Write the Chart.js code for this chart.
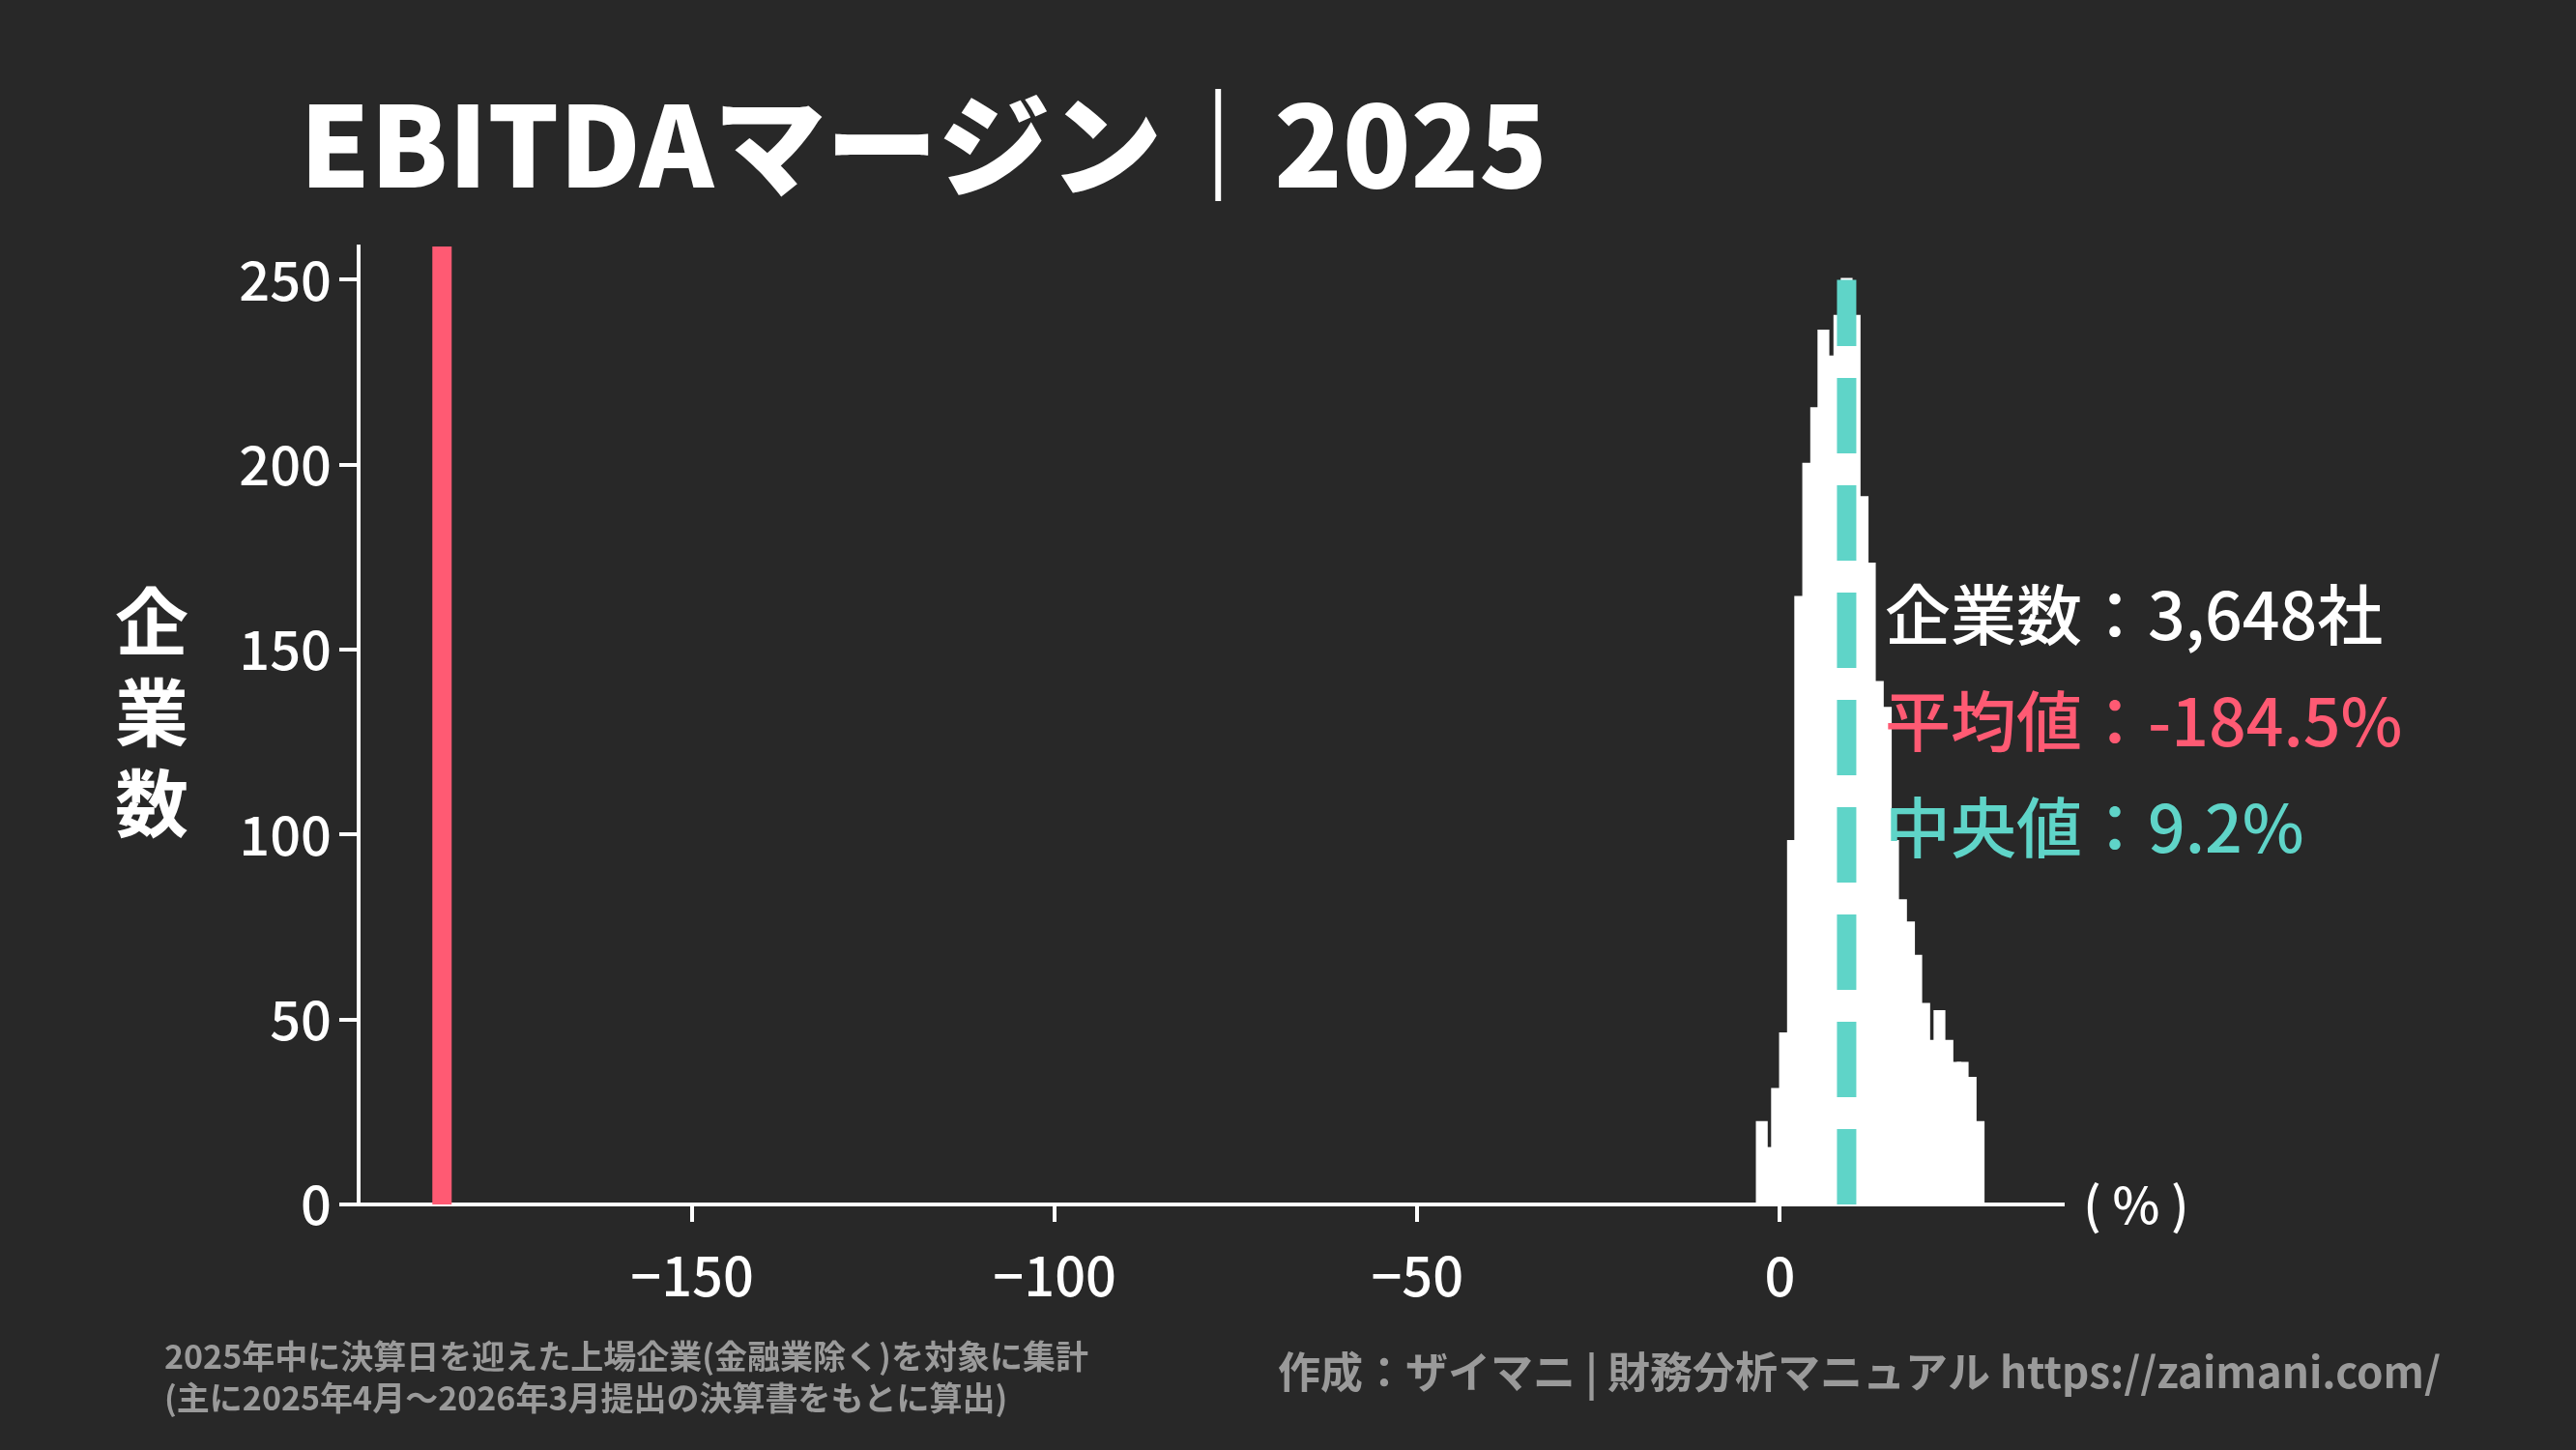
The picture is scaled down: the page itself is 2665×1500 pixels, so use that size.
<!DOCTYPE html>
<html>
<head>
<meta charset="utf-8">
<script src="https://cdn.jsdelivr.net/npm/chart.js@4"></script>
<style>
  body { margin: 0; background: #282828; }
  canvas { display: block; }
</style>
</head>
<body>
<canvas id="chart" width="2665" height="1500"></canvas>
<script>
// Histogram bins (EBITDA margin %, bin centers) and company counts
const binCenters = [-2.5, -1.4, -0.4, 0.7, 1.8, 2.8, 3.9, 5.0, 6.0, 7.1, 8.2, 9.2, 10.3, 11.4, 12.4, 13.5, 14.6, 15.6, 16.7, 17.8, 18.8, 19.9, 21.0, 22.0, 23.1, 24.2, 25.2, 26.3, 27.4];
const counts = [22, 15, 31, 46, 98, 164, 200, 215, 236, 229, 240, 250, 240, 191, 173, 141, 134, 98, 82, 76, 67, 54, 44, 52, 44, 38, 38, 34, 22];

const meanValue = -184.5;
const medianValue = 9.2;
const xTicks = [-150, -100, -50, 0];
const yTicks = [0, 50, 100, 150, 200, 250];

const FONT = '"Noto Sans CJK JP", "Noto Sans", sans-serif';
const RED = '#ff5a73';
const TEAL = '#5fd4c8';

// Draw title and side texts
const textPlugin = {
    id: 'texts',
    afterDraw(chart) {
        const ctx = chart.ctx;
        ctx.save();
        ctx.textBaseline = 'alphabetic';

        ctx.fillStyle = '#ffffff';
        ctx.font = '900 116px ' + FONT;
        ctx.textAlign = 'left';
        ctx.fillText('EBITDAマージン｜2025', 310, 194);

        ctx.font = 'bold 76px ' + FONT;
        ctx.textAlign = 'center';
        ['企', '業', '数'].forEach(function (c, i) {
            ctx.fillText(c, 157, 672 + i * 94);
        });

        ctx.font = '500 52px ' + FONT;
        ctx.textBaseline = 'middle';
        ctx.fillText('( % )', 2210, 1246);
        ctx.textBaseline = 'alphabetic';

        ctx.textAlign = 'left';
        ctx.font = '500 68px ' + FONT;
        ctx.fillStyle = '#ffffff';
        ctx.fillText('企業数：3,648社', 1950, 662);
        ctx.fillStyle = RED;
        ctx.fillText('平均値：-184.5%', 1950, 772);
        ctx.fillStyle = TEAL;
        ctx.fillText('中央値：9.2%', 1950, 882);

        ctx.fillStyle = '#9a9a9a';
        ctx.font = 'bold 34px ' + FONT;
        ctx.fillText('2025年中に決算日を迎えた上場企業(金融業除く)を対象に集計', 170, 1416);
        ctx.fillText('(主に2025年4月～2026年3月提出の決算書をもとに算出)', 170, 1459);

        ctx.font = 'bold 44px ' + FONT;
        ctx.textAlign = 'right';
        ctx.fillText('作成：ザイマニ | 財務分析マニュアル https://zaimani.com/', 2525, 1436);
        ctx.restore();
    }
};

const ctx = document.getElementById('chart').getContext('2d');

new Chart(ctx, {
    type: 'bar',

    data: {
        datasets: [
            {
                type: 'line',
                data: [{ x: medianValue, y: 0 }, { x: medianValue, y: 250 }],
                borderColor: TEAL,
                borderWidth: 20,
                borderDash: [78, 33],
                borderCapStyle: 'butt',
                pointRadius: 0,
                order: 0
            },
            {
                type: 'line',
                data: [{ x: meanValue, y: 0 }, { x: meanValue, y: 259 }],
                borderColor: RED,
                borderWidth: 20,
                pointRadius: 0,
                order: 0
            },
            {
                data: binCenters.map(function (x, i) { return { x: x, y: counts[i] }; }),
                backgroundColor: '#ffffff',
                borderWidth: 0,
                inflateAmount: 2,
                barPercentage: 1.1,
                categoryPercentage: 1,
                order: 1
            }
        ]
    },

    options: {
        responsive: false,
        animation: false,
        layout: {
            padding: { left: 0, right: 531, top: 255, bottom: 154 }
        },
        plugins: {
            legend: { display: false },
            tooltip: { enabled: false }
        },
        scales: {
            x: {
                type: 'linear',
                offset: false,
                min: -196,
                max: 39,
                afterBuildTicks: function (axis) {
                    axis.ticks = xTicks.map(function (v) { return { value: v }; });
                },
                afterFit: function (axis) { axis.height = 100; },
                ticks: {
                    color: '#ffffff',
                    font: { family: FONT, size: 56, weight: '500' },
                    padding: 22,
                    callback: function (v) { return v < 0 ? '\u2212' + Math.abs(v) : v; }
                },
                grid: {
                    offset: false,
                    drawOnChartArea: false,
                    color: '#ffffff',
                    tickLength: 18,
                    lineWidth: 4
                },
                border: { color: '#ffffff', width: 4 }
            },
            y: {
                min: 0,
                max: 259,
                afterBuildTicks: function (axis) {
                    axis.ticks = yTicks.map(function (v) { return { value: v }; });
                },
                afterFit: function (axis) { axis.width = 371; },
                ticks: {
                    color: '#ffffff',
                    font: { family: FONT, size: 56, weight: '500' },
                    padding: 8
                },
                grid: {
                    drawOnChartArea: false,
                    color: '#ffffff',
                    tickLength: 20,
                    lineWidth: 4
                },
                border: { color: '#ffffff', width: 4 }
            }
        }
    },

    plugins: [textPlugin]
});
</script>
</body>
</html>
